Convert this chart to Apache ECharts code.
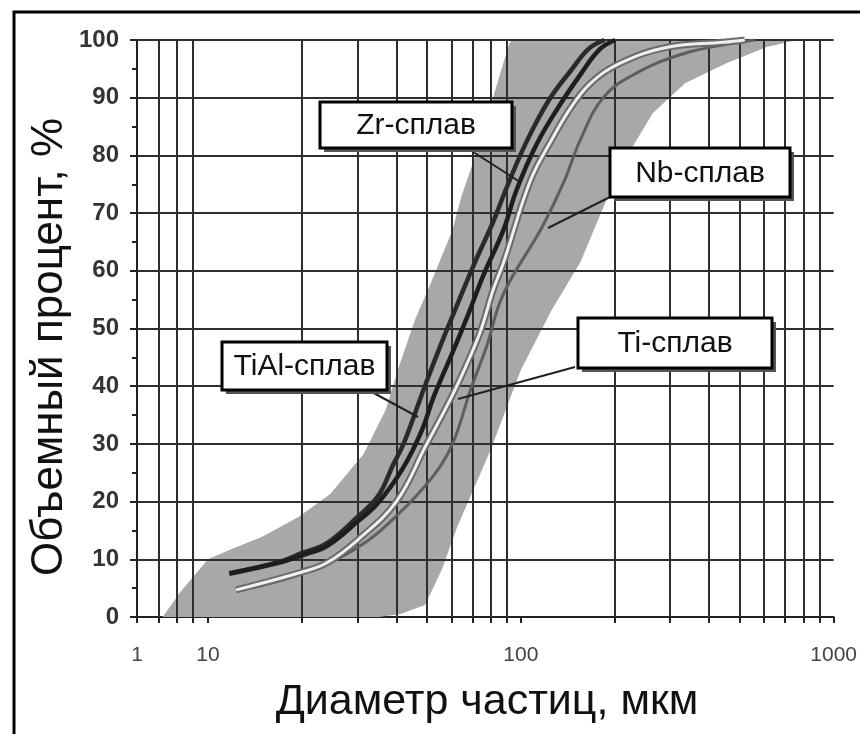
<!DOCTYPE html>
<html><head><meta charset="utf-8">
<script src="https://cdn.jsdelivr.net/npm/echarts@6/dist/echarts.min.js"></script>
<style>html,body{margin:0;padding:0;background:#fff}#c{width:860px;height:734px}</style>
</head><body><div id="c"></div>
<script>
// ---- data (diameter in µm, volume percent) ----
const xGridFirstDecade = [2, 3.6, 6.1];
const xGridMain = [20,30,40,50,60,70,80,90,200,300,400,500,600,700,800,900];
const yGridValues = [10,20,30,40,50,60,70,80,90,100];
const xTickLabels = ['1','10','100','1000'];

const bandUpper = [[2.3,0],[4.0,4.2],[10,10],[11.7,11.6],[14.9,13.9],[19.4,17.3],[24.6,21.3],[31.4,28.2],[37,35.9],[40.7,43.3],[45.9,51.5],[51.2,57.5],[60.4,67],[64.5,72.8],[74.5,82.7],[86,94.3],[92,99.5],[94,100]];
const bandLower = [[760,100],[611,98.8],[456,96],[335,92.5],[264,87.3],[208,78],[155,61.5],[125.5,53.2],[100,42.8],[80,28.9],[62.6,15.6],[55.8,8.1],[49.4,2.1],[41.3,0.5],[35.2,0],[10,0]];

const zrData   = [[11.7,7.5],[16.8,9.4],[20,10.7],[24,12.3],[30,16.5],[35,19.8],[42,25.8],[48.3,32.4],[52.6,38.1],[60,45.4],[67.4,52],[76,59.3],[87.9,67],[96.9,74],[112,81.8],[132,88.4],[155,94],[178,98.3],[200,100]];
const tialData = [[11.7,7.6],[16.8,9.5],[20,11.1],[24,12.8],[30,17.3],[35,21],[39,26.3],[42,29.8],[45,34],[49.5,40.2],[55.8,47.5],[62.5,54],[70.7,61],[81.6,68.5],[89,73.7],[103.5,82],[123,89.6],[145,94.8],[165,98.5],[185,100]];
const tiData   = [[12.3,4.7],[20,7.8],[24,9.4],[30,13.3],[40,20],[49.5,29.5],[60,38.1],[67.4,44],[74.5,49.7],[81.6,56.7],[88,61.4],[107.4,75.7],[125.5,82.7],[145,88.4],[167,92.5],[208,96],[297,98.8],[445,99.6],[520,100]];
const nbData   = [[12.3,4.5],[20,7.5],[30,12],[40,17.5],[52.6,24.5],[60.5,30],[69,39.3],[77.6,46.8],[88,56],[117,67.6],[138,75.7],[155,82.7],[184,90.1],[235,94.3],[335,97.7],[484,99.5],[560,100]];

const labels = {zr:'Zr-сплав', nb:'Nb-сплав', ti:'Ti-сплав', tial:'TiAl-сплав'};
const xTitle = 'Диаметр частиц, мкм';
const yTitle = 'Объемный процент, %';

// ---- chart ----
const chart = echarts.init(document.getElementById('c'));
const bandPolygon = bandUpper.concat(bandLower);
const GRID = '#2e2e2e';
const FONT = '"Liberation Sans", Arial, sans-serif';

function bandRender(params, api){
  if (params.dataIndex !== 0) return null;
  const pts = bandPolygon.map(p => api.coord(p));
  return {type:'polygon', shape:{points:pts}, style:{fill:'#a8a8a8'}};
}
function gridLines(xs){
  return {
    silent:true, symbol:['none','none'], label:{show:false},
    lineStyle:{color:GRID, width:2, type:'solid'},
    data: xs.map(v=>({xAxis:v})).concat(yGridValues.map(v=>({yAxis:v})))
  };
}
const axisLineStyle = {show:true, lineStyle:{color:'#222', width:2}};

function box(x,y,w,h,text){
  return {type:'group', z:100, children:[
    {type:'rect', z:100, shape:{x:x+4,y:y+4,width:w,height:h}, style:{fill:'#555'}},
    {type:'rect', z:101, shape:{x:x,y:y,width:w,height:h}, style:{fill:'#fff', stroke:'#000', lineWidth:3}},
    {type:'text', z:102, x:x+w/2, y:y+h/2+1, style:{text:text, fill:'#111', font:'30px ' + FONT, align:'center', verticalAlign:'middle'}}
  ]};
}
function leader(x1,y1,x2,y2){
  return {type:'line', z:99, shape:{x1,y1,x2,y2}, style:{stroke:'#222', lineWidth:2}};
}

const option = {
  animation:false,
  backgroundColor:'#fff',
  grid:[
    {left:137, top:40, width:71, height:577},
    {left:208, top:40, width:640, height:577}
  ],
  xAxis:[
    {type:'log', logBase:10, min:1, max:10, gridIndex:0, splitLine:{show:false}, axisLine:axisLineStyle,
     axisTick:{show:true, length:6, lineStyle:{color:'#222',width:2}, customValues:[1].concat(xGridFirstDecade,[10])},
     axisLabel:{fontFamily:FONT, fontSize:21, color:'#444', margin:28, formatter:v=> v===1 ? xTickLabels[0] : ''}},
    {type:'log', logBase:10, min:10, max:1000, gridIndex:1, splitLine:{show:false}, axisLine:axisLineStyle,
     axisTick:{show:true, length:6, lineStyle:{color:'#222',width:2}, customValues:[10,100,1000].concat(xGridMain)},
     axisLabel:{fontFamily:FONT, fontSize:21, color:'#444', margin:28, showMaxLabel:true,
       formatter:v=> v===10 ? xTickLabels[1] : v===100 ? xTickLabels[2] : v===1000 ? xTickLabels[3] : ''}}
  ],
  yAxis:[
    {type:'value', min:0, max:100, interval:10, gridIndex:0, splitLine:{show:false}, axisLine:axisLineStyle,
     axisTick:{show:true, length:7, lineStyle:{color:'#222',width:2}},
     minorTick:{show:true, splitNumber:2, length:5, lineStyle:{color:'#222',width:2}},
     axisLabel:{fontFamily:FONT, fontSize:24, fontWeight:'bold', color:'#333', margin:18}},
    {type:'value', min:0, max:100, interval:10, gridIndex:1, splitLine:{show:false}, axisLine:{show:false},
     axisTick:{show:false}, axisLabel:{show:false}}
  ],
  series:[
    {type:'custom', name:'band0', xAxisIndex:0, yAxisIndex:0, clip:true, z:1, silent:true,
     renderItem:bandRender, data:bandPolygon},
    {type:'custom', name:'band1', xAxisIndex:1, yAxisIndex:1, clip:true, z:1, silent:true,
     renderItem:bandRender, data:bandPolygon},
    {type:'line', name:'grid0', xAxisIndex:0, yAxisIndex:0, data:[], z:3, markLine:gridLines(xGridFirstDecade)},
    {type:'line', name:'grid1', xAxisIndex:1, yAxisIndex:1, data:[], z:3, markLine:gridLines(xGridMain)},
    {type:'line', name:labels.nb, xAxisIndex:1, yAxisIndex:1, data:nbData, smooth:0.4, symbol:'none', z:5,
     lineStyle:{color:'#5e5e5e', width:3}},
    {type:'line', name:labels.ti+' outline', xAxisIndex:1, yAxisIndex:1, data:tiData, smooth:0.4, symbol:'none', z:6,
     lineStyle:{color:'#6a6a6a', width:7}},
    {type:'line', name:labels.ti, xAxisIndex:1, yAxisIndex:1, data:tiData, smooth:0.4, symbol:'none', z:7,
     lineStyle:{color:'#efefef', width:3}},
    {type:'line', name:labels.tial, xAxisIndex:1, yAxisIndex:1, data:tialData, smooth:0.4, symbol:'none', z:8,
     lineStyle:{color:'#2a2a2a', width:4.5}},
    {type:'line', name:labels.zr, xAxisIndex:1, yAxisIndex:1, data:zrData, smooth:0.4, symbol:'none', z:9,
     lineStyle:{color:'#1e1e1e', width:4.5}}
  ],
  graphic:[
    {type:'rect', shape:{x:14,y:12,width:900,height:800}, style:{fill:'none', stroke:'#000', lineWidth:3}, z:0},
    {type:'text', x:487, y:702, style:{text:xTitle, fill:'#111', font:'43px ' + FONT, align:'center', verticalAlign:'middle'}},
    {type:'text', x:50, y:347, rotation:Math.PI/2, style:{text:yTitle, fill:'#111', font:'44px ' + FONT, align:'center', verticalAlign:'middle'}},
    leader(467,148,520,182), leader(610,197,548,228), leader(575,367,458,399), leader(370,391,418,417),
    box(320,102,192,46,labels.zr),
    box(610,148,180,49,labels.nb),
    box(578,318,194,50,labels.ti),
    box(222,342,165,48,labels.tial)
  ]
};
chart.setOption(option);
</script></body></html>
